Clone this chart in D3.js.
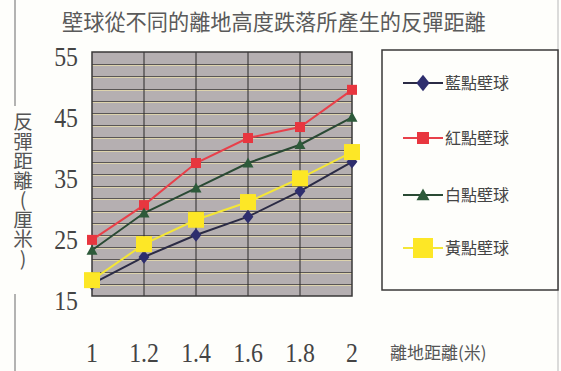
<!DOCTYPE html>
<html>
<head>
<meta charset="utf-8">
<script src="https://cdn.jsdelivr.net/npm/d3@7"></script>
<style>
  html, body { margin: 0; padding: 0; background: #fefefb; }
  svg { display: block; }
</style>
</head>
<body>
<svg id="chart" width="561" height="371"></svg>
<script>
// Drop heights (m) and bounce distances (cm) for each squash ball
const heights = [1, 1.2, 1.4, 1.6, 1.8, 2];
const xTickLabels = ["1", "1.2", "1.4", "1.6", "1.8", "2"];
const yTickValues = [55, 45, 35, 25, 15];
const blueBall = [17.0, 21.4, 25.0, 28.0, 32.2, 37.0];
const redBall = [24.2, 29.9, 36.8, 40.9, 42.7, 48.8];
const whiteBall = [22.5, 28.6, 32.7, 36.8, 39.8, 44.3];
const yellowBall = [17.6, 23.5, 27.5, 30.4, 34.3, 38.6];
const seriesNames = ["藍點壁球", "紅點壁球", "白點壁球", "黃點壁球"];

const series = [
  { name: seriesNames[0], values: blueBall, line: "#2b2b45", fill: "#2e2e6e", shape: "diamond", size: 9 },
  { name: seriesNames[1], values: redBall, line: "#e8404a", fill: "#e8363f", shape: "square", size: 10 },
  { name: seriesNames[2], values: whiteBall, line: "#2a4a34", fill: "#2d5a3a", shape: "triangle", size: 11 },
  { name: seriesNames[3], values: yellowBall, line: "#f4e636", fill: "#fde726", shape: "square", size: 16 }
];

const svg = d3.select("#chart");
const x = d3.scaleLinear().domain([1, 2]).range([92, 352]);
const y = d3.scaleLinear().domain([15, 55]).range([296, 52]);

// Page frame
const frame = svg.append("g").attr("stroke", "#9a9a9a").attr("stroke-width", 1.5);
frame.append("line").attr("x1", 15).attr("x2", 15).attr("y1", 0).attr("y2", 106);
frame.append("line").attr("x1", 15).attr("x2", 15).attr("y1", 294).attr("y2", 371);
frame.append("line").attr("x1", 558).attr("x2", 558).attr("y1", 0).attr("y2", 371).attr("stroke", "#cfcfcf");

// Title
svg.append("text")
  .attr("x", 62).attr("y", 30)
  .attr("font-family", "'Noto Sans CJK TC', sans-serif")
  .attr("font-size", 21.2)
  .attr("fill", "#5a5a5a")
  .text("壁球從不同的離地高度跌落所產生的反彈距離");

// Plot background
svg.append("rect")
  .attr("x", x(1)).attr("y", y(55))
  .attr("width", x(2) - x(1)).attr("height", y(15) - y(55))
  .attr("fill", "#b5afb1");

// Horizontal gridlines: dark line with a pale line beneath
const gridVals = d3.range(17, 55, 2);
const hg = svg.append("g");
hg.selectAll("line.dark").data(gridVals).join("line")
  .attr("x1", x(1)).attr("x2", x(2))
  .attr("y1", d => Math.round(y(d)) + 0.5).attr("y2", d => Math.round(y(d)) + 0.5)
  .attr("stroke", "#5a5656").attr("stroke-width", 1);
hg.selectAll("line.light").data(gridVals).join("line")
  .attr("x1", x(1)).attr("x2", x(2))
  .attr("y1", d => Math.round(y(d)) + 1.5).attr("y2", d => Math.round(y(d)) + 1.5)
  .attr("stroke", "#ddd3ad").attr("stroke-width", 1);

// Vertical gridlines
svg.append("g").selectAll("line").data(heights.slice(1, -1)).join("line")
  .attr("x1", d => x(d)).attr("x2", d => x(d))
  .attr("y1", y(55)).attr("y2", y(15))
  .attr("stroke", "#2a2828").attr("stroke-width", 1);

// Plot border
svg.append("rect")
  .attr("x", x(1)).attr("y", y(55))
  .attr("width", x(2) - x(1)).attr("height", y(15) - y(55))
  .attr("fill", "none").attr("stroke", "#3a3838").attr("stroke-width", 1.5);

// Marker drawing helper
function marker(g, shape, size, fill) {
  if (shape === "diamond") {
    const w = size * 0.6, h = size * 0.75;
    g.append("path").attr("d", `M0,${-h}L${w},0L0,${h}L${-w},0Z`).attr("fill", fill);
  } else if (shape === "triangle") {
    const s = size / 2;
    g.append("path").attr("d", `M0,${-s}L${s},${s * 0.8}L${-s},${s * 0.8}Z`).attr("fill", fill);
  } else {
    const s = size / 2;
    g.append("rect").attr("x", -s).attr("y", -s).attr("width", size).attr("height", size).attr("fill", fill);
  }
}

// Lines and markers
const lineGen = d3.line().x((d, i) => x(heights[i])).y(d => y(d));
series.forEach(s => {
  svg.append("path")
    .attr("d", lineGen(s.values))
    .attr("fill", "none")
    .attr("stroke", s.line)
    .attr("stroke-width", 2);
  s.values.forEach((v, i) => {
    const g = svg.append("g").attr("transform", `translate(${x(heights[i])},${y(v)})`);
    marker(g, s.shape, s.size, s.fill);
  });
});

// Y tick labels
svg.append("g").selectAll("text").data(yTickValues).join("text")
  .attr("transform", d => `translate(78,${y(d) + 14}) scale(0.85,1)`)
  .attr("text-anchor", "end")
  .attr("font-family", "'Liberation Serif', serif")
  .attr("font-size", 28)
  .attr("fill", "#444")
  .text(d => d);

// X tick labels
svg.append("g").selectAll("text").data(heights).join("text")
  .attr("transform", d => `translate(${x(d)},362) scale(0.85,1)`)
  .attr("text-anchor", "middle")
  .attr("font-family", "'Liberation Serif', serif")
  .attr("font-size", 28)
  .attr("fill", "#444")
  .text((d, i) => xTickLabels[i]);

// Axis titles
svg.append("text")
  .attr("x", 390).attr("y", 359)
  .attr("font-family", "'Noto Sans CJK TC', sans-serif")
  .attr("font-size", 17)
  .attr("fill", "#555")
  .text("離地距離(米)");

svg.append("text")
  .attr("x", 23).attr("y", 112)
  .attr("font-family", "'Noto Sans CJK TC', sans-serif")
  .attr("font-size", 19.5)
  .attr("fill", "#555")
  .style("writing-mode", "vertical-rl")
  .style("text-orientation", "upright")
  .text("反彈距離(厘米)");

// Legend
const legend = svg.append("g");
legend.append("rect")
  .attr("x", 382).attr("y", 50).attr("width", 176).attr("height", 240)
  .attr("fill", "#fefefb").attr("stroke", "#3a3838").attr("stroke-width", 1.5);
const legendY = [83, 138, 195, 248];
series.forEach((s, i) => {
  const g = legend.append("g").attr("transform", `translate(0,${legendY[i]})`);
  g.append("line").attr("x1", 403).attr("x2", 443).attr("y1", 0).attr("y2", 0)
    .attr("stroke", s.line).attr("stroke-width", 2);
  const m = g.append("g").attr("transform", "translate(423,0)");
  marker(m, s.shape, i === 3 ? 20 : s.size + 2, s.fill);
  g.append("text")
    .attr("x", 445).attr("y", 6)
    .attr("font-family", "'Noto Sans CJK TC', sans-serif")
    .attr("font-size", 16)
    .attr("fill", "#444")
    .text(s.name);
});
</script>
</body>
</html>
